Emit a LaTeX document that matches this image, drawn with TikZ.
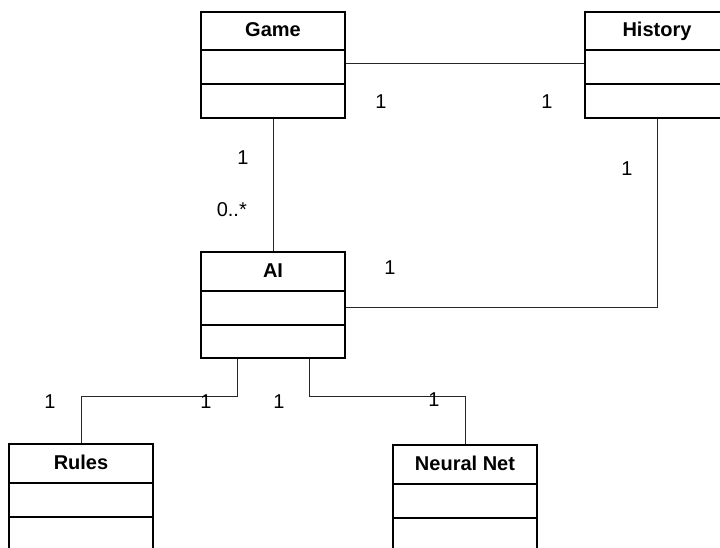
\documentclass[tikz,border=0pt]{standalone}
\usepackage{fontspec}
\setmainfont{Liberation Sans}
\begin{document}
\begin{tikzpicture}[x=1pt,y=-1pt,
  classbox/.style={draw=black,line width=2pt,fill=white,rectangle,inner sep=0pt,
    minimum width=144pt,minimum height=106pt},
  classtitle/.style={anchor=base,inner sep=0pt,font=\fontsize{20}{22}\selectfont\bfseries},
  assoc/.style={draw=black!85,line width=1pt},
  mult/.style={inner sep=0pt,font=\fontsize{20}{22}\selectfont}]
\useasboundingbox (0,0) rectangle (720,548);
\clip (0,0) rectangle (720,548);

% a class box with two empty compartments: name, centre x, top y, title
\newcommand\umlclassbox[4]{%
  \node[classbox,anchor=north] (#1) at (#2,#3) {};
  \draw[line width=2pt] ([yshift=-39.5pt]#1.north west) -- ([yshift=-39.5pt]#1.north east);
  \draw[line width=2pt] ([yshift=-73.5pt]#1.north west) -- ([yshift=-73.5pt]#1.north east);
  \node[classtitle] (#1-title) at ([yshift=-26pt]#1.north) {#4};
}

% classes
\umlclassbox{game}{273}{11}{Game}
\umlclassbox{history}{657}{11}{History}
\umlclassbox{ai}{273}{251}{AI}
\umlclassbox{rules}{81}{443}{Rules}
\umlclassbox{neural}{465}{444}{Neural Net}

% associations
\draw[assoc] ([yshift=1pt]game.east) -- ([yshift=1pt]history.west);
\draw[assoc] (game.south) -- (ai.north);
\draw[assoc] ([yshift=-2pt]ai.east) -| (history.south);
\draw[assoc] ([xshift=-36pt]ai.south) -- ++(0,37) -| (rules.north);
\draw[assoc] ([xshift=36pt]ai.south) -- ++(0,37) -| (neural.north);

% multiplicities
\node[mult] (m1) at (381,102) {1};
\node[mult] (m2) at (547,102) {1};
\node[mult] (m3) at (243,158) {1};
\node[mult,anchor=east] (m4) at (247,210) {0..*};
\node[mult] (m5) at (627,169) {1};
\node[mult] (m6) at (390,268) {1};
\node[mult] (m7) at (50,402) {1};
\node[mult] (m8) at (206,402) {1};
\node[mult] (m9) at (279,402) {1};
\node[mult] (m10) at (434,400) {1};
\end{tikzpicture}
\end{document}
